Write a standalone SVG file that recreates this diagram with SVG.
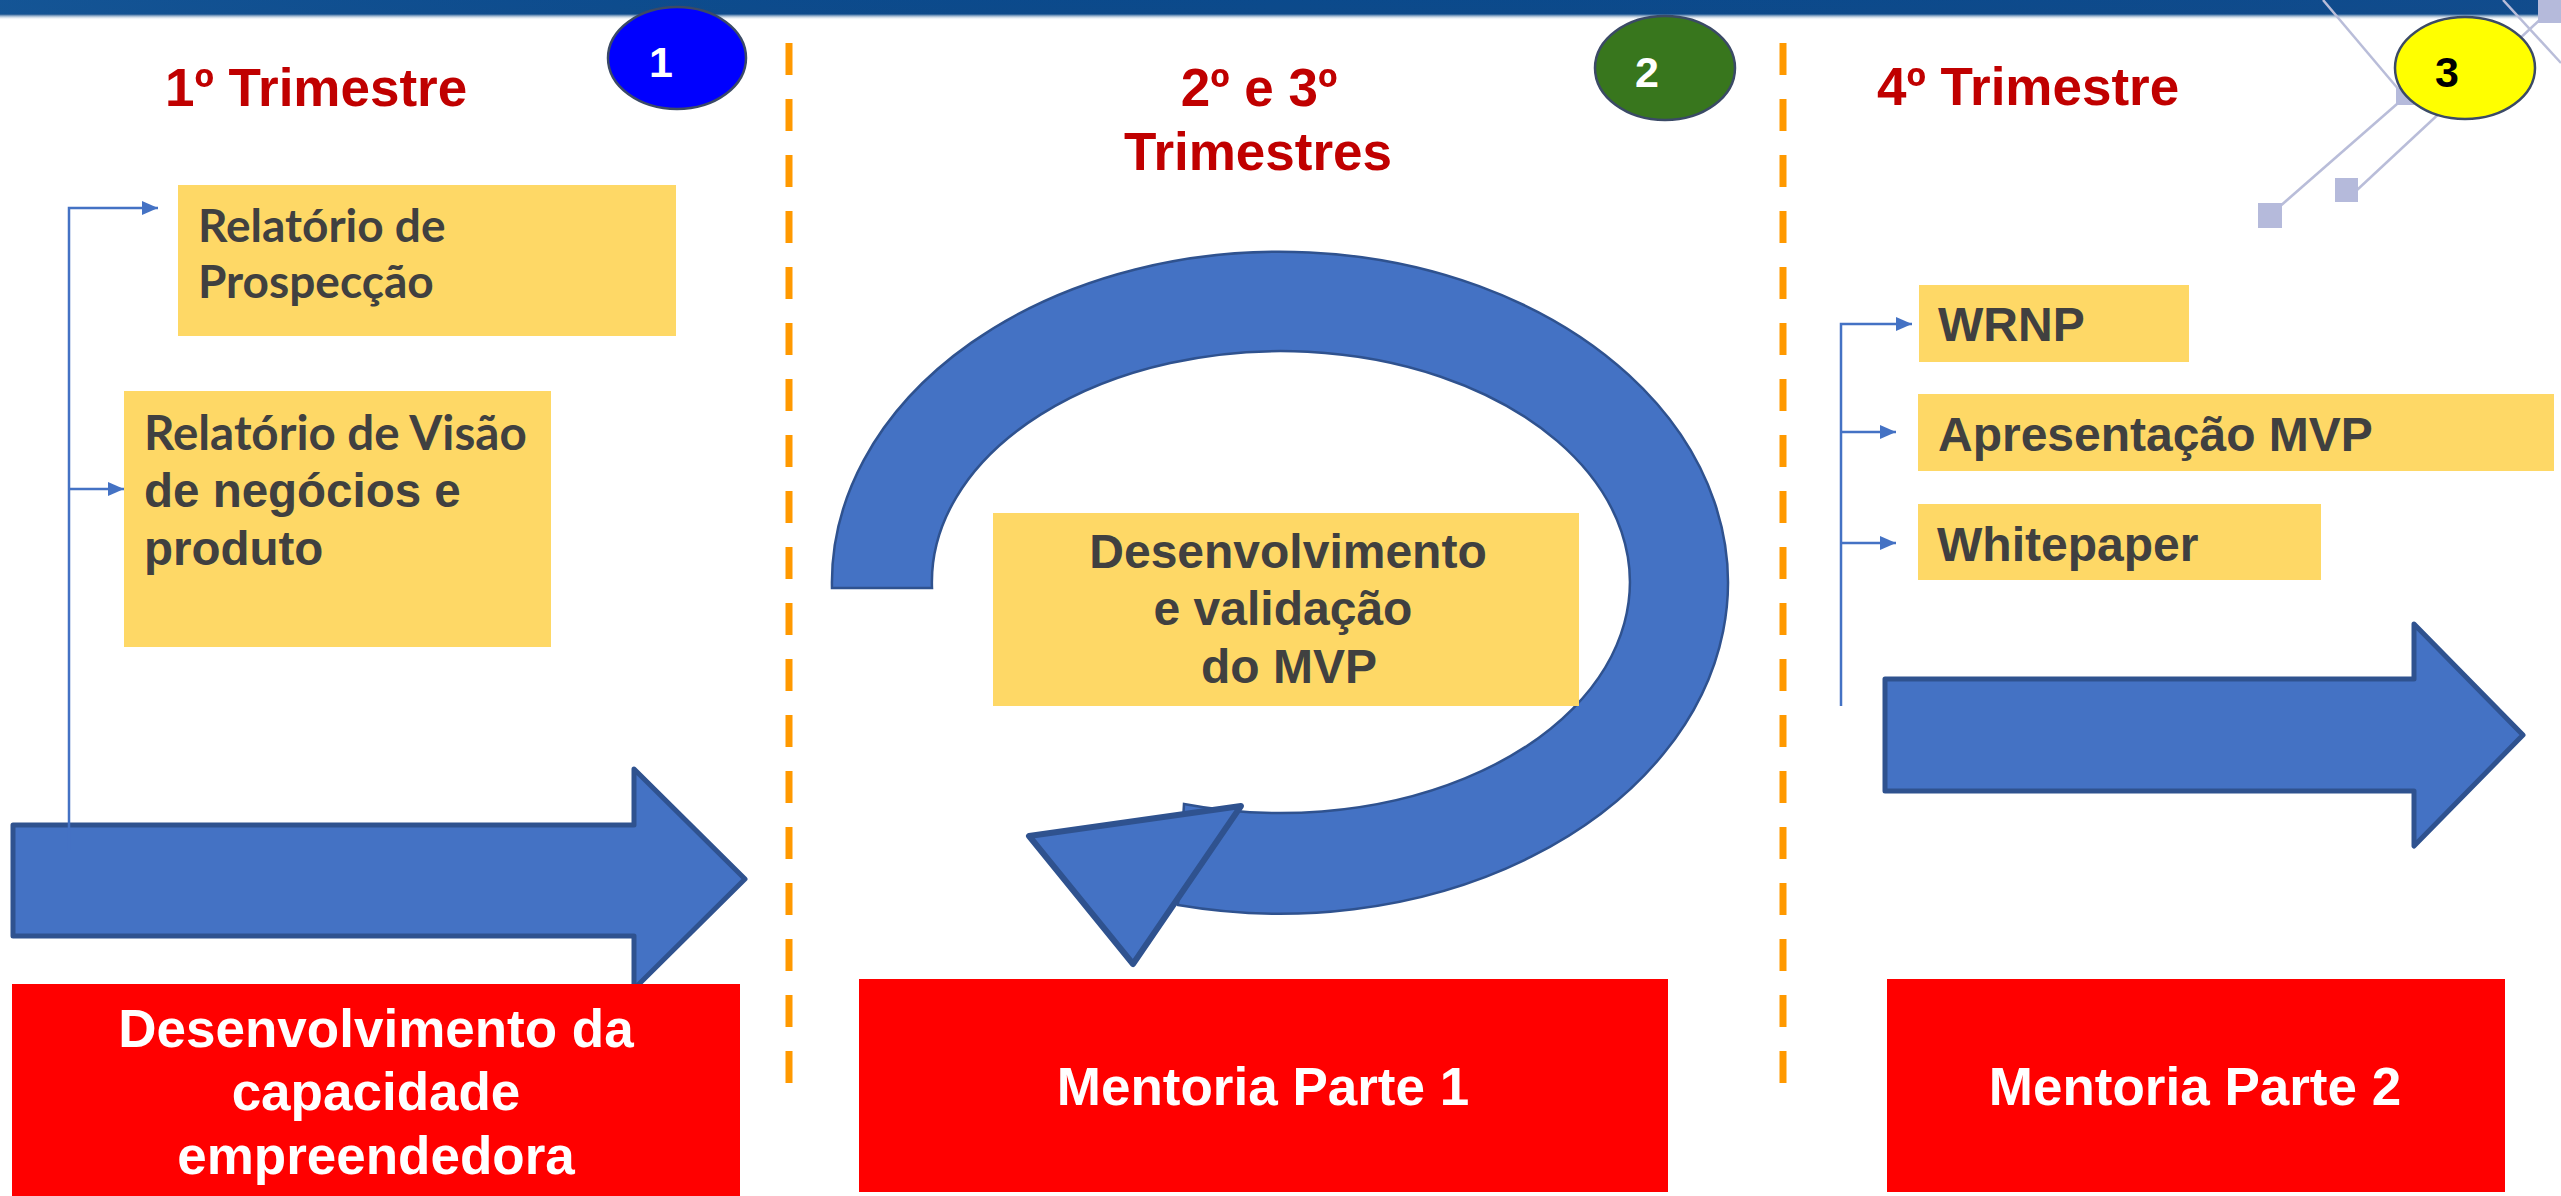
<svg xmlns="http://www.w3.org/2000/svg" width="2561" height="1196" viewBox="0 0 2561 1196">
  <defs>
    <linearGradient id="topbar" x1="0" y1="0" x2="0" y2="1">
      <stop offset="0" stop-color="#0b4a8c"/>
      <stop offset="0.7" stop-color="#0d4a8a"/>
      <stop offset="1" stop-color="#ffffff" stop-opacity="0"/>
    </linearGradient>
    <linearGradient id="topbarH" x1="0" y1="0" x2="1" y2="0">
      <stop offset="0" stop-color="#1a5c9c" stop-opacity="0.6"/>
      <stop offset="0.5" stop-color="#0a4486" stop-opacity="0"/>
      <stop offset="1" stop-color="#1a4f8f" stop-opacity="0.4"/>
    </linearGradient>
    <marker id="arr" markerUnits="userSpaceOnUse" markerWidth="16" markerHeight="14" refX="16" refY="7" orient="auto">
      <path d="M0,0 L16,7 L0,14 Z" fill="#4472c4"/>
    </marker>
    <style>
      .title { font-family: "Liberation Sans", Arial, sans-serif; font-weight: bold; font-size: 53px; fill: #c00000; }
      .num { font-family: "Liberation Sans", Arial, sans-serif; font-weight: bold; font-size: 43px; }
      .dash { stroke: #ff9900; stroke-width: 7; stroke-dasharray: 32 24; fill: none; }
      .ybox { fill: #fed866; }
      .lato { font-family: Lato, "Liberation Sans", sans-serif; font-weight: bold; fill: #404040; }
      .arial { font-family: "Liberation Sans", Arial, sans-serif; font-weight: bold; fill: #404040; }
      .red { fill: #ff0000; }
      .wtxt { font-family: "Liberation Sans", Arial, sans-serif; font-weight: bold; font-size: 53px; fill: #ffffff; text-anchor: middle; }
      .blue { fill: #4472c4; stroke: #2f528f; }
      .conn { stroke: #4472c4; stroke-width: 2.5; fill: none; }
      .deco { stroke: #b9bdd9; stroke-width: 2.5; fill: none; }
      .sq { fill: #b5badb; }
    </style>
  </defs>

  <rect x="0" y="0" width="2561" height="1196" fill="#ffffff"/>

  <!-- top bar -->
  <g id="header-bar">
    <rect x="0" y="0" width="2561" height="20" fill="url(#topbar)"/>
    <rect x="0" y="0" width="2561" height="14" fill="url(#topbarH)"/>
  </g>

  <!-- decoration top right -->
  <g id="decoration">
    <line class="deco" x1="2323" y1="0" x2="2405" y2="97"/>
    <line class="deco" x1="2405" y1="97" x2="2270" y2="215"/>
    <line class="deco" x1="2357" y1="190" x2="2545" y2="15"/>
    <line class="deco" x1="2503" y1="0" x2="2561" y2="63"/>
    <rect class="sq" x="2396" y="88" width="18" height="17"/>
    <rect class="sq" x="2258" y="203" width="24" height="25"/>
    <rect class="sq" x="2335" y="178" width="23" height="24"/>
    <rect class="sq" x="2538" y="0" width="23" height="23"/>
  </g>

  <!-- dashed separators -->
  <g id="separators">
    <line class="dash" x1="789" y1="43" x2="789" y2="1083"/>
    <line class="dash" x1="1783" y1="43" x2="1783" y2="1083"/>
  </g>

  <!-- titles -->
  <g id="title-1"><text class="title" x="165" y="106">1º Trimestre</text></g>
  <g id="title-2">
    <text class="title" x="1259" y="106" text-anchor="middle">2º e 3º</text>
    <text class="title" x="1258" y="170" text-anchor="middle">Trimestres</text>
  </g>
  <g id="title-3"><text class="title" x="1877" y="105">4º Trimestre</text></g>

  <!-- circles -->
  <g id="badge-1">
    <ellipse cx="677" cy="58" rx="69" ry="51" fill="#0000ff" stroke="#3b4a66" stroke-width="2.5"/>
    <text class="num" x="661" y="77" text-anchor="middle" fill="#ffffff">1</text>
  </g>
  <g id="badge-2">
    <ellipse cx="1665" cy="68" rx="70" ry="52" fill="#38761d" stroke="#3b4a66" stroke-width="2.5"/>
    <text class="num" x="1647" y="87" text-anchor="middle" fill="#ffffff">2</text>
  </g>
  <g id="badge-3">
    <ellipse cx="2465" cy="68" rx="70" ry="51" fill="#ffff00" stroke="#3b4a66" stroke-width="2.5"/>
    <text class="num" x="2447" y="87" text-anchor="middle" fill="#000000">3</text>
  </g>

  <!-- big arrows -->
  <g id="arrow-left">
    <polygon class="blue" stroke-width="5" stroke-linejoin="round" points="13,825 634,825 634,769 745,879 634,989 634,936 13,936"/>
  </g>
  <g id="arrow-right">
    <polygon class="blue" stroke-width="5" stroke-linejoin="round" points="1885,679 2414,679 2414,624 2523,735 2414,846 2414,791 1885,791"/>
  </g>

  <!-- circular arrow -->
  <g id="cycle-arrow">
    <path class="blue" stroke-width="2.5" d="M 832 588 A 448 331 0 1 1 1178 905 L 1184 804 A 349 231 0 1 0 932 588 Z"/>
    <polygon class="blue" stroke-width="6" stroke-linejoin="round" points="1029,836 1241,806 1133,964"/>
  </g>

  <!-- yellow boxes -->
  <g id="box-prospeccao">
    <rect class="ybox" x="178" y="185" width="498" height="151"/>
    <text class="lato" font-size="46" x="198" y="242">Relatório de</text>
    <text class="lato" font-size="46" x="198" y="298">Prospecção</text>
  </g>
  <g id="box-visao">
    <rect class="ybox" x="124" y="391" width="427" height="256"/>
    <text class="lato" font-size="47.5" x="144" y="450">Relatório de Visão</text>
    <text class="arial" font-size="47.5" x="144" y="507">de negócios e</text>
    <text class="arial" font-size="47.5" x="144" y="565">produto</text>
  </g>
  <g id="box-mvp">
    <rect class="ybox" x="993" y="513" width="586" height="193"/>
    <text class="arial" font-size="48" x="1288" y="568" text-anchor="middle">Desenvolvimento</text>
    <text class="arial" font-size="48" x="1283" y="625" text-anchor="middle">e validação</text>
    <text class="arial" font-size="48" x="1289" y="683" text-anchor="middle">do MVP</text>
  </g>
  <g id="box-wrnp">
    <rect class="ybox" x="1919" y="285" width="270" height="77"/>
    <text class="arial" font-size="48" x="1938" y="341">WRNP</text>
  </g>
  <g id="box-apresentacao">
    <rect class="ybox" x="1918" y="394" width="636" height="77"/>
    <text class="arial" font-size="48" x="1938" y="451">Apresentação MVP</text>
  </g>
  <g id="box-whitepaper">
    <rect class="ybox" x="1918" y="504" width="403" height="76"/>
    <text class="arial" font-size="48" x="1937" y="561">Whitepaper</text>
  </g>

  <!-- connectors -->
  <g id="connectors">
    <polyline class="conn" points="69,850 69,208 158,208" marker-end="url(#arr)"/>
    <line class="conn" x1="69" y1="489" x2="124" y2="489" marker-end="url(#arr)"/>
    <polyline class="conn" points="1841,706 1841,324 1912,324" marker-end="url(#arr)"/>
    <line class="conn" x1="1841" y1="432" x2="1896" y2="432" marker-end="url(#arr)"/>
    <line class="conn" x1="1841" y1="543" x2="1896" y2="543" marker-end="url(#arr)"/>
  </g>

  <!-- red boxes -->
  <g id="box-capacidade">
    <rect class="red" x="12" y="984" width="728" height="212"/>
    <text class="wtxt" x="376" y="1047">Desenvolvimento da</text>
    <text class="wtxt" x="376" y="1110">capacidade</text>
    <text class="wtxt" x="376" y="1174">empreendedora</text>
  </g>
  <g id="box-mentoria-1">
    <rect class="red" x="859" y="979" width="809" height="213"/>
    <text class="wtxt" x="1263" y="1105">Mentoria Parte 1</text>
  </g>
  <g id="box-mentoria-2">
    <rect class="red" x="1887" y="979" width="618" height="213"/>
    <text class="wtxt" x="2195" y="1105">Mentoria Parte 2</text>
  </g>
</svg>
